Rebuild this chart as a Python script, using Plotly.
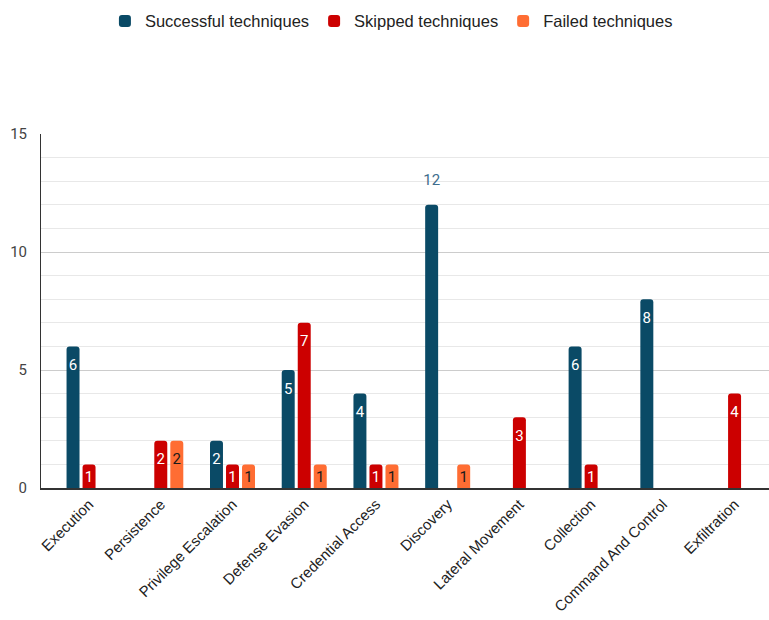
import plotly.graph_objects as go

# Technique outcomes per ATT&CK tactic
tactics = [
    "Execution", "Persistence", "Privilege Escalation", "Defense Evasion",
    "Credential Access", "Discovery", "Lateral Movement", "Collection",
    "Command And Control", "Exfiltration",
]
successful = [6, 0, 2, 5, 4, 12, 0, 6, 8, 0]
skipped = [1, 2, 1, 7, 1, 0, 3, 1, 0, 4]
failed = [0, 2, 1, 1, 1, 1, 0, 0, 0, 0]

y_ticks = [0, 5, 10, 15]

series = [
    ("Successful techniques", successful, "#0a4a66", "#ffffff", "#3d6d8c"),
    ("Skipped techniques", skipped, "#cc0000", "#ffffff", "#cc0000"),
    ("Failed techniques", failed, "#ff6d33", "#1a1a1a", "#ff6d33"),
]

BAR_GAP = 0.33

fig = go.Figure()
for k, (name, vals, color, txt_in, txt_out) in enumerate(series):
    fig.add_trace(go.Bar(
        name=name,
        x=tactics,
        y=vals,
        offsetgroup=str(k),
        marker=dict(color=color, line=dict(width=0)),
        hoverinfo="x+y+name",
    ))

for k, (name, vals, color, txt_in, txt_out) in enumerate(series):
    # value labels: inside the bar top, or above a bar too narrow for its label
    outside = [v >= 10 for v in vals]
    fig.add_trace(go.Scatter(
        x=tactics,
        y=vals,
        offsetgroup=str(k),
        mode="markers+text",
        text=[str(v) if v else "" for v in vals],
        textposition=["top center" if o else "bottom center" for o in outside],
        textfont=dict(family="Roboto", size=15,
                      color=[txt_out if o else txt_in for o in outside]),
        marker=dict(size=[24 if o else (18 if v >= 2 else 9)
                          for o, v in zip(outside, vals)],
                    opacity=0),
        showlegend=False,
        hoverinfo="skip",
        cliponaxis=False,
    ))

fig.update_layout(
    width=769, height=620,
    barmode="group",
    bargap=BAR_GAP,
    bargroupgap=0.19,
    scattermode="group",
    scattergap=BAR_GAP,
    barcornerradius=3,
    plot_bgcolor="#ffffff",
    paper_bgcolor="#ffffff",
    margin=dict(l=41, r=0, t=134, b=132),
    legend=dict(
        orientation="h",
        xref="container", yref="container",
        x=0.509, xanchor="center",
        y=0.994, yanchor="top",
        font=dict(family="Liberation Sans", size=16.5, color="#222222"),
        itemsizing="constant",
    ),
    xaxis=dict(
        range=[-0.67, 9.48],
        tickangle=-45,
        tickfont=dict(family="Liberation Sans", size=15, color="#222222"),
        showline=True, linecolor="#333333", linewidth=1.5,
        showgrid=False,
        ticks="",
    ),
    yaxis=dict(
        range=[0, 15],
        tickvals=y_ticks,
        tickfont=dict(family="Roboto", size=15, color="#444444"),
        showline=True, linecolor="#333333", linewidth=1,
        gridcolor="#cccccc", gridwidth=1,
        minor=dict(dtick=1, showgrid=True, gridcolor="#e8e8e8", gridwidth=1),
        zeroline=False,
        ticks="",
        ticklabelstandoff=10,
    ),
)

fig.write_html("out.html")
